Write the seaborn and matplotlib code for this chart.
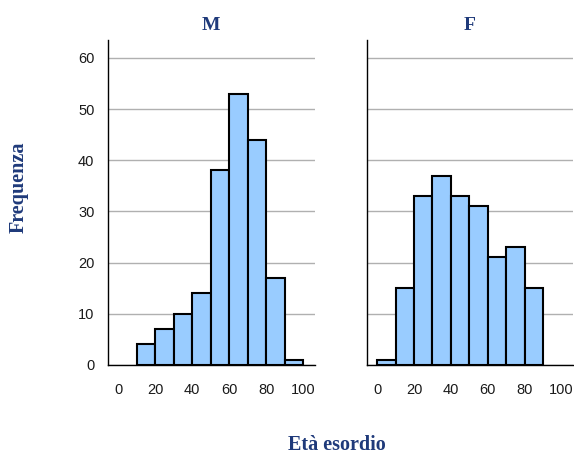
import numpy as np
import pandas as pd
import matplotlib
matplotlib.use("Agg")
import matplotlib.pyplot as plt
import seaborn as sns

# bin edges and counts per sex
bin_edges = [0, 10, 20, 30, 40, 50, 60, 70, 80, 90, 100]
counts_m = [0, 4, 7, 10, 14, 38, 53, 44, 17, 1]
counts_f = [1, 15, 33, 37, 33, 31, 21, 23, 15, 0]
panels = ["M", "F"]

centers = [(a + b) / 2 for a, b in zip(bin_edges[:-1], bin_edges[1:])]
df = pd.DataFrame({
    "eta": centers * 2,
    "n": counts_m + counts_f,
    "sesso": ["M"] * len(counts_m) + ["F"] * len(counts_f),
})
df = df[df["n"] > 0]

sns.set_style("white")
plt.rcParams["font.family"] = ["Liberation Sans", "DejaVu Sans"]
navy = "#1f3a7a"
serif = ["Liberation Serif", "DejaVu Serif"]

fig = plt.figure(figsize=(5.74, 4.55), dpi=100)
ax1 = fig.add_axes([0.1876, 0.198, 0.3606, 0.714])
ax2 = fig.add_axes([0.639, 0.198, 0.359, 0.714])

for ax, s in zip([ax1, ax2], panels):
    sub = df[df["sesso"] == s]
    lo = sub["eta"].min() - 5
    hi = sub["eta"].max() + 5
    edges = [e for e in bin_edges if lo <= e <= hi]
    sns.histplot(data=sub, x="eta", weights="n", bins=edges, ax=ax,
                 color="#99ccff", edgecolor="black", linewidth=1.5, alpha=1)
    ax.set_xlim(-5.6, 106.2)
    ax.set_ylim(0, 63.5)
    ax.set_yticks(range(0, 61, 10))
    ax.set_xticks(range(0, 101, 20))
    ax.yaxis.grid(True, color="#b0b0b0", linewidth=1)
    ax.set_axisbelow(True)
    for side in ["top", "right"]:
        ax.spines[side].set_visible(False)
    ax.spines["left"].set_color("black")
    ax.spines["bottom"].set_color("black")
    ax.spines["left"].set_linewidth(1)
    ax.spines["bottom"].set_linewidth(1)
    ax.tick_params(axis="both", colors="#a0a0a0", length=6, width=1,
                   labelcolor="#1a1a1a", labelsize=10.5, direction="out")
    ax.tick_params(axis="x", pad=7)
    ax.set_xlabel("")
    ax.set_ylabel("")
    ax.set_title(s, fontsize=14, fontweight="bold", color=navy,
                 family=serif, pad=7)

ax2.tick_params(axis="y", left=False, labelleft=False)

fig.text(0.032, 0.589, "Frequenza", rotation=90, ha="center", va="center",
         fontsize=14.5, fontweight="bold", color=navy, family=serif)
fig.text(0.587, 0.022, "Età esordio", ha="center", va="center",
         fontsize=14.5, fontweight="bold", color=navy, family=serif)

fig.savefig("out.png", dpi=100)
